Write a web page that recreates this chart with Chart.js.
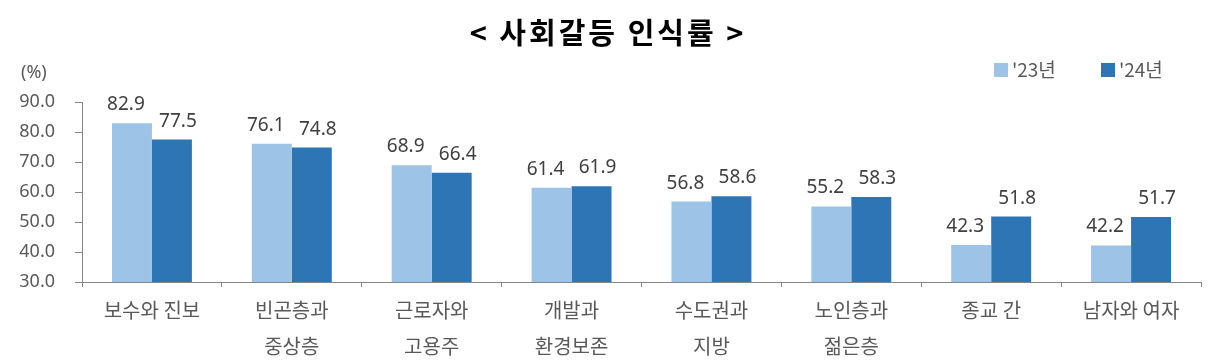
<!DOCTYPE html>
<html>
<head>
<meta charset="utf-8">
<script src="https://cdn.jsdelivr.net/npm/chart.js@4/dist/chart.umd.min.js"></script>
<style>
html,body{margin:0;padding:0;background:#fff;}
canvas{display:block;}
</style>
</head>
<body>
<canvas id="c" width="1208" height="364"></canvas>
<script>
const chartTitle = '< 사회갈등 인식률 >';
const unitLabel = '(%)';
const categories = [
  ['보수와 진보'],
  ['빈곤층과', '중상층'],
  ['근로자와', '고용주'],
  ['개발과', '환경보존'],
  ['수도권과', '지방'],
  ['노인층과', '젊은층'],
  ['종교 간'],
  ['남자와 여자']
];
const seriesNames = ["'23년", "'24년"];
const values23 = [82.9, 76.1, 68.9, 61.4, 56.8, 55.2, 42.3, 42.2];
const values24 = [77.5, 74.8, 66.4, 61.9, 58.6, 58.3, 51.8, 51.7];
const yMin = 30, yMax = 90, yStep = 10;

const KR = '"Noto Sans CJK KR", "Noto Sans", sans-serif';
const NUM = '"Noto Sans", "Noto Sans CJK KR", sans-serif';

const decorPlugin = {
  id: 'decor',
  afterDraw(chart) {
    const ctx = chart.ctx;
    ctx.save();
    // title
    ctx.fillStyle = '#000';
    ctx.font = 'bold 29px ' + KR;
    ctx.textAlign = 'center';
    ctx.textBaseline = 'middle';
    try { ctx.letterSpacing = '3px'; } catch (e) {}
    ctx.fillText(chartTitle, 608, 33);
    try { ctx.letterSpacing = '0px'; } catch (e) {}
    // unit
    ctx.fillStyle = '#595959';
    ctx.font = '18px ' + NUM;
    ctx.textAlign = 'left';
    ctx.fillText(unitLabel, 21, 73);
    // legend
    const boxX = [994, 1101];
    chart.data.datasets.forEach((ds, i) => {
      ctx.fillStyle = ds.backgroundColor;
      ctx.fillRect(boxX[i], 63, 14, 14);
      ctx.fillStyle = '#595959';
      ctx.font = '19px ' + KR;
      ctx.textAlign = 'left';
      ctx.textBaseline = 'middle';
      ctx.fillText(ds.label, boxX[i] + 18, 70);
    });
    ctx.restore();
  },
  afterDatasetsDraw(chart) {
    const ctx = chart.ctx;
    ctx.save();
    ctx.fillStyle = '#404040';
    ctx.font = '19px ' + NUM;
    ctx.textAlign = 'center';
    ctx.textBaseline = 'alphabetic';
    const shift = [-6, 6];
    chart.data.datasets.forEach((ds, i) => {
      const meta = chart.getDatasetMeta(i);
      meta.data.forEach((bar, j) => {
        ctx.fillText(ds.data[j].toFixed(1), bar.x + shift[i], bar.y - 13);
      });
    });
    ctx.restore();
  }
};

new Chart(document.getElementById('c'), {
  type: 'bar',
  data: {
    labels: categories,
    datasets: [
      { label: seriesNames[0], data: values23, backgroundColor: '#9DC3E6', borderWidth: 0 },
      { label: seriesNames[1], data: values24, backgroundColor: '#2E75B6', borderWidth: 0 }
    ]
  },
  options: {
    responsive: false,
    animation: false,
    events: [],
    layout: { padding: { top: 102, right: 7, left: 0, bottom: 0 } },
    plugins: { legend: { display: false }, title: { display: false }, tooltip: { enabled: false } },
    datasets: { bar: { categoryPercentage: 0.5714, barPercentage: 1.0 } },
    scales: {
      x: {
        grid: { display: true, drawOnChartArea: false, offset: true, color: '#868686', tickLength: 5, tickColor: '#868686' },
        border: { display: true, color: '#868686', width: 1 },
        ticks: { color: '#595959', font: { family: KR, size: 20, lineHeight: 1.8 }, padding: 5, maxRotation: 0, autoSkip: false },
        afterFit(s) { s.height = 82; }
      },
      y: {
        min: yMin, max: yMax,
        grid: { display: true, drawOnChartArea: false, color: '#868686', tickLength: 7, tickColor: '#868686' },
        border: { display: true, color: '#868686', width: 1 },
        ticks: { stepSize: yStep, color: '#595959', font: { family: NUM, size: 18 }, padding: 20,
          callback: v => Number(v).toFixed(1) },
        afterFit(s) { s.width = 82; }
      }
    }
  },
  plugins: [decorPlugin]
});
</script>
</body>
</html>
